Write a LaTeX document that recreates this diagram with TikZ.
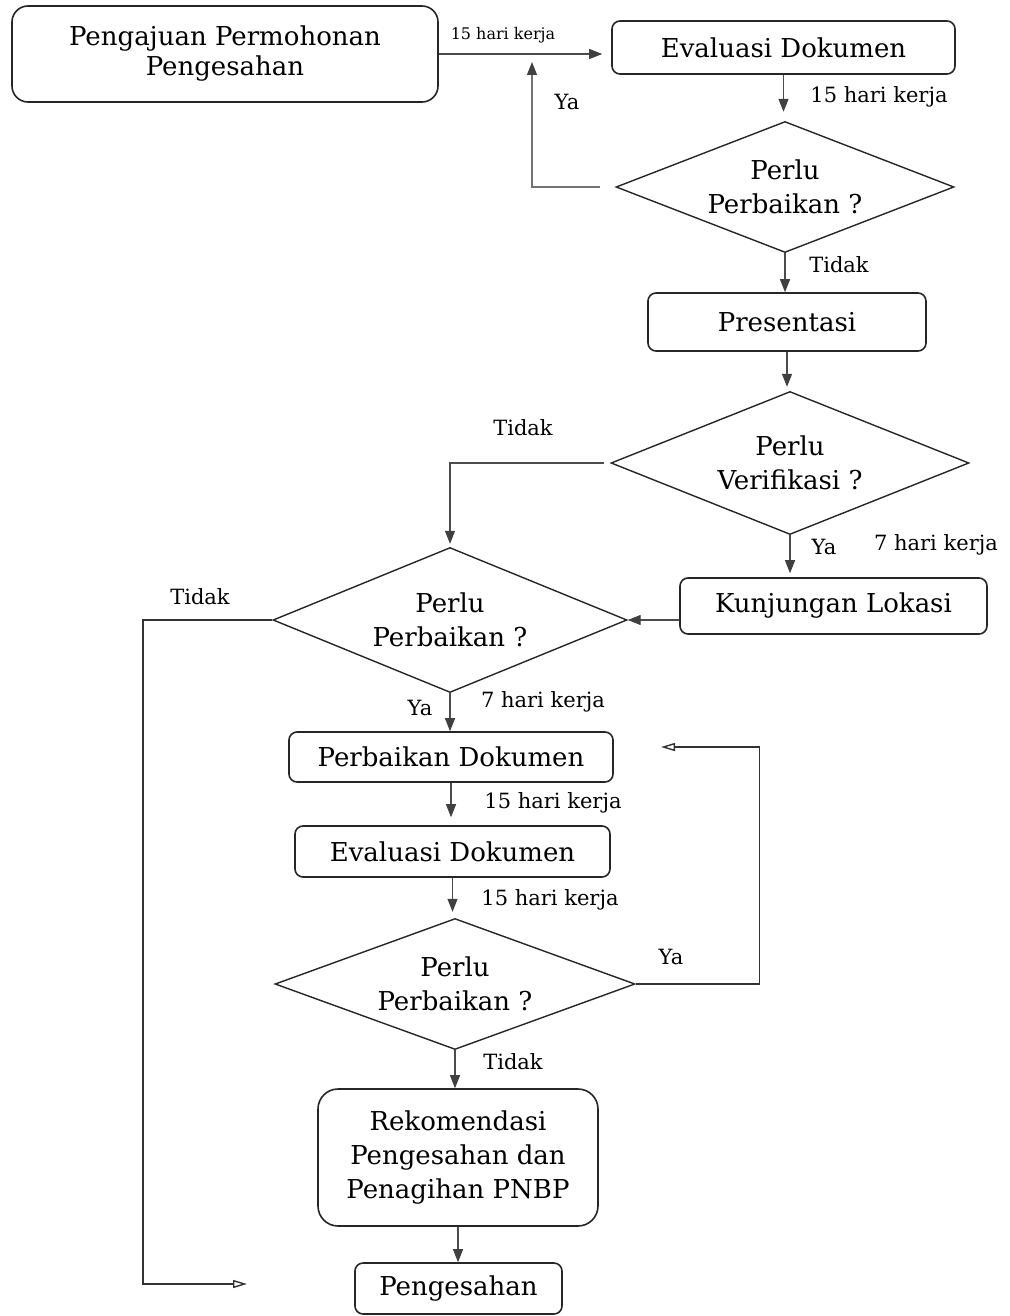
\documentclass[tikz,border=0pt]{standalone}
\usepackage{fontspec}
\setmainfont{DejaVu Serif}
\usetikzlibrary{shapes.geometric,arrows.meta}
\begin{document}
\begin{tikzpicture}[x=1pt,y=-1pt,
  box/.style={draw=black!85,line width=1.6pt,rounded corners=8pt,align=center,inner sep=0pt,font=\fontsize{26}{34}\selectfont},
  cond/.style={diamond,aspect=2.6,draw=black!85,line width=1.4pt,align=center,inner sep=0pt,font=\fontsize{26}{34}\selectfont},
  lbl/.style={inner sep=0pt,font=\fontsize{21}{25}\selectfont},
  flow/.style={draw=black!70,line width=1.2pt,-{Triangle[length=13pt,width=10pt,color=black!75]}},
  back/.style={draw=black!80,line width=1.4pt,-{Triangle[open,length=14pt,width=8pt]}}]
\useasboundingbox (0,0) rectangle (1009,1316);
\node[box,minimum width=426pt,minimum height=96pt,rounded corners=16pt,font=\fontsize{26}{30}\selectfont] (ajuan) at (225,54) {Pengajuan Permohonan\\Pengesahan};
\node[box,minimum width=343pt,minimum height=53pt] (eval1) at (783.5,47.5) {Evaluasi Dokumen};
\node[cond,minimum width=338pt,minimum height=131pt] (cek1) at (785,187) {Perlu\\Perbaikan ?};
\node[box,minimum width=278pt,minimum height=58pt] (presentasi) at (787,322) {Presentasi};
\node[cond,minimum width=358pt,minimum height=143pt] (verif) at (790,463) {Perlu\\Verifikasi ?};
\node[box,minimum width=307pt,minimum height=56pt] (kunjungan) at (833.5,606) {Kunjungan Lokasi};
\node[cond,minimum width=354pt,minimum height=145pt] (cek2) at (450,620) {Perlu\\Perbaikan ?};
\node[box,minimum width=324pt,minimum height=50pt] (perbaikan) at (451,757) {Perbaikan Dokumen};
\node[box,minimum width=315pt,minimum height=51pt] (eval2) at (452.5,851.5) {Evaluasi Dokumen};
\node[cond,minimum width=360pt,minimum height=131pt] (cek3) at (455,984) {Perlu\\Perbaikan ?};
\node[box,minimum width=280pt,minimum height=137pt,rounded corners=20pt] (rekom) at (458,1157.5) {Rekomendasi\\Pengesahan dan\\Penagihan PNBP};
\node[box,minimum width=207pt,minimum height=51pt] (sah) at (458.5,1288.5) {Pengesahan};
% labels
\node[lbl,font=\fontsize{16}{20}\selectfont] (t1) at (503,35) {15 hari kerja};
\node[lbl] (ya1) at (567,102) {Ya};
\node[lbl] (t2) at (879,97) {15 hari kerja};
\node[lbl] (tidak1) at (839,265) {Tidak};
\node[lbl] (tidak2) at (523,428) {Tidak};
\node[lbl] (ya2) at (824,547) {Ya};
\node[lbl] (t3) at (936,545) {7 hari kerja};
\node[lbl] (tidak3) at (200,597) {Tidak};
\node[lbl] (ya3) at (420,708) {Ya};
\node[lbl] (t4) at (543,702) {7 hari kerja};
\node[lbl] (t5) at (553,803) {15 hari kerja};
\node[lbl] (t6) at (550,900) {15 hari kerja};
\node[lbl] (ya4) at (671,957) {Ya};
\node[lbl] (tidak4) at (513,1062) {Tidak};
% free ends
\coordinate (naik) at (532,62);
\coordinate (kiri) at (143,1284);
\coordinate (ujung) at (247,1284);
\coordinate (balik) at (661,747);
% arrows
\draw[flow,shorten >=9pt] (ajuan) -- (ajuan -| eval1.west);
\draw[flow,shorten >=9pt] (eval1) -- (eval1 |- cek1.north);
\draw[flow,draw=black!55,shorten <=15pt] (cek1.west) -| (naik);
\draw[flow] (cek1.south) -- (cek1.south |- presentasi.north);
\draw[flow,shorten >=4pt] (presentasi) -- (presentasi |- verif.north);
\draw[flow,shorten <=6pt,shorten >=3pt] (verif.west) -| (cek2.north);
\draw[flow,shorten >=4pt] (verif.south) -- (verif.south |- kunjungan.north);
\draw[flow] (kunjungan.west |- cek2.east) -- (cek2.east);
\draw[back] (cek2.west) -| (kiri) -- (ujung);
\draw[flow] (cek2.south) -- (cek2.south |- perbaikan.north);
\draw[flow,shorten >=8pt] (perbaikan) -- (perbaikan |- eval2.north);
\draw[flow,shorten >=6pt] (eval2) -- (eval2 |- cek3.north);
\draw[back] (cek3.east) -- ++(124,0) |- (balik);
\draw[flow] (cek3.south) -- (cek3.south |- rekom.north);
\draw[flow] (rekom) -- (rekom |- sah.north);
\end{tikzpicture}
\end{document}
